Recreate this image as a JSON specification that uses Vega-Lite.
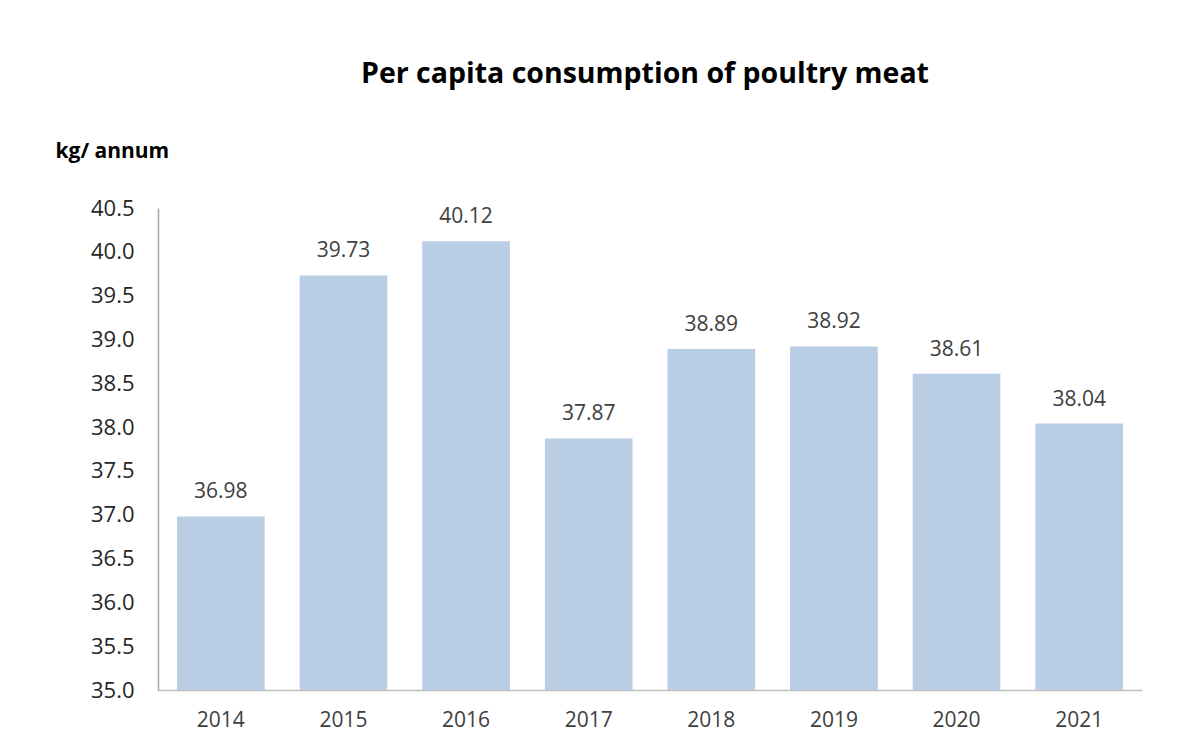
{
  "$schema": "https://vega.github.io/schema/vega-lite/v6.json",
  "width": 984,
  "height": 482,
  "autosize": "none",
  "padding": {"left": 158, "top": 208, "right": 50, "bottom": 55},
  "background": "white",
  "title": {
    "text": "Per capita consumption of poultry meat",
    "font": "Open Sans",
    "fontSize": 28.5,
    "fontWeight": "bold",
    "color": "#000000",
    "anchor": "middle",
    "offset": 52,
    "dx": -5
  },
  "config": {
    "view": {"stroke": null},
    "font": "Open Sans"
  },
  "data": {
    "values": [
      {"year": "2014", "value": 36.98},
      {"year": "2015", "value": 39.73},
      {"year": "2016", "value": 40.12},
      {"year": "2017", "value": 37.87},
      {"year": "2018", "value": 38.89},
      {"year": "2019", "value": 38.92},
      {"year": "2020", "value": 38.61},
      {"year": "2021", "value": 38.04}
    ]
  },
  "encoding": {
    "x": {
      "field": "year",
      "type": "ordinal",
      "scale": {"paddingInner": 0.285, "paddingOuter": 0.155},
      "axis": {
        "title": null,
        "labelAngle": 0,
        "labelFont": "Open Sans",
        "labelFontSize": 21,
        "labelColor": "#404040",
        "labelPadding": 19,
        "ticks": false,
        "domainColor": "#bfbfbf",
        "domainWidth": 1.5
      }
    },
    "y": {
      "field": "value",
      "type": "quantitative",
      "scale": {"domain": [35, 40.5], "zero": false, "nice": false},
      "axis": {
        "title": "kg/ annum",
        "titleFont": "Open Sans",
        "titleFontSize": 21,
        "titleFontWeight": "bold",
        "titleColor": "#000000",
        "titleAngle": 0,
        "titleAlign": "left",
        "titleBaseline": "alphabetic",
        "titleX": -103,
        "titleY": -51,
        "values": [35, 35.5, 36, 36.5, 37, 37.5, 38, 38.5, 39, 39.5, 40, 40.5],
        "format": ".1f",
        "labelFont": "Open Sans",
        "labelFontSize": 22,
        "labelColor": "#262626",
        "labelPadding": 24,
        "ticks": false,
        "grid": false,
        "domainColor": "#a6a6a6",
        "domainWidth": 1.5
      }
    }
  },
  "layer": [
    {
      "mark": {"type": "bar", "color": "#b9cde5"},
      "encoding": {"y2": {"datum": 35}}
    },
    {
      "mark": {"type": "text", "baseline": "alphabetic", "dy": -18, "font": "Open Sans", "fontSize": 21, "color": "#404040"},
      "encoding": {
        "text": {"field": "value", "type": "quantitative", "format": ".2f"}
      }
    }
  ]
}
